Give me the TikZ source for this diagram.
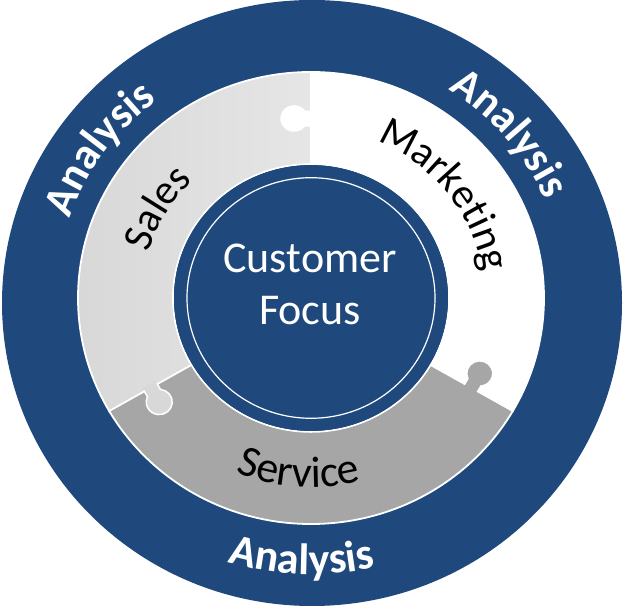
\documentclass[tikz,border=0pt]{standalone}
\usepackage{fontspec}
\setmainfont{Carlito}
\usetikzlibrary{decorations.text}
\definecolor{cfblue}{HTML}{1F497D}
\definecolor{salesgray}{HTML}{D8D8D8}
\definecolor{salesgrayB}{HTML}{E6E6E6}
\definecolor{servgray}{HTML}{A6A6A6}
\newcommand\ringlabelfont{\fontsize{42}{50}\selectfont}
\newcommand\servicefont{\fontsize{44}{52}\selectfont}
\newcommand\analysisfont{\fontsize{44}{52}\selectfont\bfseries}
\begin{document}
\begin{tikzpicture}[x=1pt,y=1pt,
  sep/.style={white, line width=1.8pt},
  ringtext/.style={decorate, decoration={text along path, text align=center, text color=black}},
  outertext/.style={decorate, decoration={text along path, text align=center, text color=white}},
]
\useasboundingbox (0,0) rectangle (624,608);
\fill[cfblue] (312,305) ellipse [x radius=310, y radius=303];
\begin{scope}[shift={(311,310)}, yscale=0.97]
  % ring sectors
  \fill[white] (-30:138) -- (-30:233) arc[start angle=-30, end angle=90, radius=233] -- (90:138) arc[start angle=90, end angle=-30, radius=138] -- cycle;
  \shade[left color=salesgray, right color=salesgrayB] (90:138) -- (90:233) arc[start angle=90, end angle=210, radius=233] -- (210:138) arc[start angle=210, end angle=90, radius=138] -- cycle;
  \fill[servgray] (210:138) -- (210:233) arc[start angle=210, end angle=330, radius=233] -- (330:138) arc[start angle=330, end angle=210, radius=138] -- cycle;
  % separators
  \foreach \a in {90,210,330} \draw[sep] (\a:137) -- (\a:234);
  % puzzle tabs
  \foreach \a/\c in {90/white, 210/salesgray, 330/servgray} {
    \begin{scope}[rotate=\a]
      \fill[\c] (177.5,-4) -- (177.5,6.4) arc[start angle=234.7, end angle=-54.7, radius=13] -- (192.5,-4) -- cycle;
      \draw[white, line width=1.5pt] (177.5,-0.9) -- (177.5,6.4) arc[start angle=234.7, end angle=-54.7, radius=13] -- (192.5,-0.9);
    \end{scope}
  }
  % ring outlines
  \draw[white, line width=1.8pt] (0,0) circle[radius=233];
  \draw[white, line width=1.8pt] (0,0) circle[radius=138];
  % central disc
  \fill[cfblue] (0,0) circle[radius=137];
  \draw[white, line width=1.2pt] (0,0) circle[radius=124];
  % ring labels
  \path[ringtext, decoration={text={|\ringlabelfont|Sales}}] (199.5:169) arc[start angle=199.5, end angle=99.5, radius=169];
  \path[ringtext, decoration={text={|\ringlabelfont|Marketing}}] (88:174) arc[start angle=88, end angle=-12, radius=174];
  \path[ringtext, decoration={text={|\servicefont|Service}}] (216:195) arc[start angle=216, end angle=316, radius=195];
  % outer labels
  \path[outertext, decoration={text={|\analysisfont|Analysis}}] (194.5:255) arc[start angle=194.5, end angle=94.5, radius=255];
  \path[outertext, decoration={text={|\analysisfont|Analysis}}] (90:255) arc[start angle=90, end angle=-10, radius=255];
  \path[outertext, decoration={text={|\analysisfont|Analysis}}] (218:285) arc[start angle=218, end angle=318, radius=285];
\end{scope}
\node[anchor=base, text=white, font=\fontsize{44}{52}\selectfont, inner sep=0pt] (cust) at (310,335) {Customer};
\node[anchor=base, text=white, font=\fontsize{44}{52}\selectfont, inner sep=0pt] (focus) at (310,283) {Focus};
\end{tikzpicture}
\end{document}
